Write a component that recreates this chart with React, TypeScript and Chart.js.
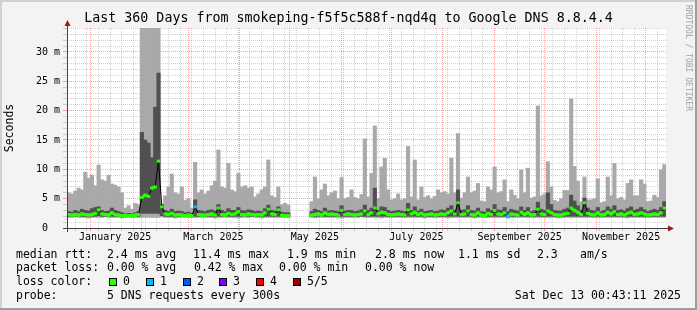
import React, { useEffect, useRef } from 'react';
import { Chart, registerables } from 'chart.js';

Chart.register(...registerables);

const TITLE = 'Last 360 Days from smokeping-f5f5c588f-nqd4q to Google DNS 8.8.4.4';
const Y_TITLE = 'Seconds';
const WATERMARK = 'RRDTOOL / TOBI OETIKER';
const SPAN_DAYS = 360;
const BIN_DAYS = 2;
const Y_MAX_MS = 34.09;

// x ticks, in days since 18 Dec 2024 00:43
const monthStartDays = [13.97, 44.97, 72.97, 103.97, 133.97, 164.97, 194.97, 225.97, 256.97, 286.97, 317.97, 347.97];
const firstMondayDay = 4.97;
const monthLabels = ['January 2025', 'March 2025', 'May 2025', 'July 2025', 'September 2025', 'November 2025'];
const monthLabelDays = [28.97, 87.97, 148.97, 209.97, 271.97, 332.97];

// smoke: outer (light) range per 2-day bin, ms
const smokeMax: (number | null)[] = [
  6.0, 5.8, 6.3, 6.8, 6.5, 9.5, 8.5, 9.0, 7.2, 10.7, 8.2, 8.0, 9.0, 7.5, 7.3, 7.0, 6.0, 3.4, 3.8, 3.2,
  4.2, 4.0, 100, 100, 100, 100, 100, 100, 4.0, 5.5, 7.0, 9.2, 6.0, 5.8, 7.0, 4.7, 5.0, 3.4, 11.2, 6.0,
  6.5, 5.8, 6.3, 7.2, 8.0, 13.3, 7.0, 6.8, 11.0, 6.5, 6.2, 9.3, 7.0, 7.2, 6.8, 7.0, 5.3, 5.8, 6.5, 7.0,
  11.6, 5.5, 5.2, 7.0, 4.0, 4.2, 3.9, null, null, null, null, null, null, 4.5, 8.7, 5.0, 6.5, 7.5, 5.5, 6.0,
  6.3, 5.0, 8.6, 5.0, 5.2, 6.5, 5.2, 5.0, 5.7, 15.2, 5.3, 9.3, 17.4, 5.0, 10.4, 11.9, 6.5, 4.8, 5.0, 5.8,
  4.8, 5.0, 13.9, 5.3, 11.6, 4.8, 7.0, 5.2, 5.5, 5.0, 5.4, 6.5, 6.0, 6.2, 5.8, 11.9, 6.0, 16.1, 5.1, 6.0,
  8.7, 6.0, 6.3, 7.6, 4.6, 4.5, 7.0, 6.5, 10.4, 6.0, 6.2, 8.2, 4.5, 6.5, 5.6, 5.0, 9.9, 6.0, 10.2, 5.1,
  5.3, 20.8, 5.5, 5.8, 11.3, 7.0, 4.7, 4.5, 5.0, 6.4, 6.4, 22.0, 10.5, 8.0, 4.5, 8.7, 4.8, 4.8, 5.0, 8.4,
  4.3, 4.5, 8.7, 5.5, 11.0, 5.0, 5.2, 4.8, 7.6, 8.2, 5.5, 5.5, 8.2, 7.5, 4.5, 4.6, 5.6, 5.2, 9.9, 10.8,
];
const smokeMin: (number | null)[] = [
  1.8, 1.8, 1.9, 1.8, 1.8, 1.8, 1.7, 1.8, 1.8, 1.8, 1.8, 1.9, 1.8, 1.8, 1.8, 1.8, 1.7, 1.8, 1.9, 1.8,
  1.8, 1.8, 1.8, 1.8, 1.8, 1.8, 1.8, 1.8, 1.9, 1.8, 1.8, 1.8, 1.7, 1.8, 1.8, 1.8, 1.8, 1.8, 1.8, 1.8,
  1.8, 1.8, 1.8, 1.8, 1.7, 1.8, 1.8, 1.8, 1.8, 1.8, 1.8, 1.7, 1.8, 1.8, 1.8, 1.9, 1.8, 1.8, 1.7, 1.8,
  1.8, 1.8, 1.8, 1.8, 1.8, 1.9, 1.8, null, null, null, null, null, null, 1.8, 1.7, 1.8, 1.8, 1.8, 1.8, 1.8,
  1.8, 1.8, 1.7, 1.8, 1.8, 1.8, 1.8, 1.8, 1.9, 1.8, 1.8, 1.8, 1.8, 1.8, 1.7, 1.8, 1.8, 1.8, 1.8, 1.8,
  1.8, 1.8, 1.8, 1.8, 1.8, 1.8, 1.8, 1.7, 1.8, 1.8, 1.8, 1.8, 1.8, 1.8, 1.7, 1.8, 1.8, 1.8, 1.8, 1.8,
  1.8, 1.8, 1.7, 1.8, 1.8, 1.8, 1.8, 1.8, 1.8, 1.8, 1.8, 1.8, 1.7, 1.8, 1.8, 1.8, 1.8, 1.8, 1.8, 1.8,
  1.8, 1.8, 1.8, 1.8, 1.8, 1.8, 1.8, 1.7, 1.8, 1.8, 1.8, 1.8, 1.8, 1.8, 1.8, 1.8, 1.8, 1.8, 1.8, 1.8,
  1.8, 1.8, 1.8, 1.8, 1.8, 1.8, 1.8, 1.8, 1.7, 1.8, 1.8, 1.8, 1.8, 1.8, 1.8, 1.8, 1.8, 1.8, 1.8, 1.8,
];
// smoke: inner (dark) range per bin, ms
const coreMax: (number | null)[] = [
  2.8, 2.7, 3.0, 2.8, 3.2, 3.0, 2.9, 3.3, 3.5, 3.6, 3.0, 2.8, 2.9, 3.4, 3.0, 2.8, 2.6, 2.4, 2.5, 2.4,
  2.6, 2.8, 16.3, 15.0, 14.5, 12.0, 20.6, 26.4, 4.0, 3.0, 2.8, 3.2, 2.8, 2.9, 2.8, 2.6, 2.7, 2.5, 4.8, 3.0,
  2.9, 2.8, 3.0, 3.1, 2.9, 4.0, 3.0, 2.8, 3.3, 3.0, 3.0, 3.5, 3.0, 2.9, 3.1, 3.0, 2.8, 2.9, 2.8, 3.3,
  3.9, 3.0, 2.9, 3.6, 2.7, 2.6, 2.6, null, null, null, null, null, null, 2.8, 3.2, 3.0, 2.8, 3.4, 2.9, 3.0,
  2.9, 2.8, 3.8, 2.9, 3.0, 3.0, 2.8, 2.9, 3.1, 3.9, 3.0, 3.4, 6.8, 3.0, 3.6, 3.5, 3.0, 2.8, 2.9, 3.0,
  2.9, 2.8, 4.2, 3.0, 3.6, 2.9, 3.2, 2.8, 2.9, 3.0, 2.8, 2.9, 3.1, 3.0, 3.4, 3.8, 3.0, 6.5, 3.0, 3.1,
  3.8, 3.0, 2.9, 3.4, 2.8, 2.7, 3.3, 3.0, 4.0, 3.1, 3.0, 3.5, 2.8, 3.2, 3.0, 2.9, 3.6, 3.0, 3.5, 2.8,
  3.0, 4.4, 3.2, 3.0, 6.0, 4.0, 3.0, 2.9, 2.9, 3.2, 3.4, 5.6, 4.6, 3.8, 3.0, 5.1, 3.4, 3.0, 2.9, 3.5,
  2.8, 3.0, 3.6, 3.2, 3.8, 3.0, 3.1, 2.9, 3.3, 3.6, 3.0, 3.2, 3.5, 3.1, 2.8, 3.0, 3.2, 3.0, 3.5, 4.5,
];
const coreMin: (number | null)[] = [
  2.0, 2.0, 2.0, 2.0, 2.0, 2.0, 1.9, 2.0, 2.0, 2.1, 2.0, 2.0, 2.0, 2.0, 2.0, 2.0, 1.9, 1.9, 1.9, 1.9,
  2.0, 2.0, 2.5, 2.5, 2.5, 2.5, 2.5, 2.5, 2.1, 2.0, 2.0, 2.0, 1.9, 2.0, 2.0, 2.0, 2.0, 1.9, 2.0, 2.0,
  2.0, 2.0, 2.0, 2.0, 1.9, 2.0, 2.0, 2.0, 2.0, 2.0, 2.0, 2.0, 2.0, 2.0, 2.0, 2.0, 2.0, 2.0, 1.9, 2.0,
  2.0, 2.0, 2.0, 2.0, 2.0, 1.9, 1.9, null, null, null, null, null, null, 2.0, 2.0, 2.0, 2.0, 2.0, 2.0, 2.0,
  2.0, 2.0, 2.0, 2.0, 2.0, 2.0, 2.0, 2.0, 2.0, 2.0, 2.0, 2.0, 2.0, 2.0, 2.0, 2.0, 2.0, 1.9, 2.0, 2.0,
  2.0, 1.9, 2.0, 2.0, 2.0, 2.0, 2.0, 1.9, 2.0, 2.0, 1.9, 2.0, 2.0, 2.0, 2.0, 2.0, 2.0, 2.0, 2.0, 2.0,
  2.0, 2.0, 1.9, 2.0, 2.0, 1.9, 2.0, 2.0, 2.0, 2.0, 2.0, 2.0, 1.9, 2.0, 2.0, 2.0, 2.0, 2.0, 2.0, 1.9,
  2.0, 2.0, 2.0, 2.0, 2.0, 2.0, 2.0, 1.9, 1.9, 2.0, 2.0, 2.0, 2.0, 2.0, 2.0, 2.0, 2.0, 2.0, 1.9, 2.0,
  1.9, 2.0, 2.0, 2.0, 2.0, 2.0, 2.0, 1.9, 2.0, 2.0, 2.0, 2.0, 2.0, 2.0, 1.9, 2.0, 2.0, 2.0, 2.0, 2.0,
];
// median rtt per bin, ms
const medianMs: (number | null)[] = [
  2.3, 2.2, 2.3, 2.2, 2.4, 2.3, 2.2, 2.3, 2.5, 3.1, 2.4, 2.3, 2.2, 2.6, 2.3, 2.2, 2.1, 2.1, 2.1, 2.1,
  2.2, 2.3, 5.2, 5.6, 5.4, 6.8, 7.0, 11.4, 3.6, 2.4, 2.3, 2.5, 2.2, 2.3, 2.2, 2.1, 2.2, 2.1, 3.6, 2.3,
  2.2, 2.2, 2.3, 2.4, 2.2, 3.4, 2.3, 2.2, 2.5, 2.3, 2.4, 2.8, 2.3, 2.2, 2.4, 2.3, 2.2, 2.3, 2.2, 2.6,
  3.2, 2.4, 2.3, 3.1, 2.2, 2.1, 2.1, null, null, null, null, null, null, 2.2, 2.3, 2.4, 2.2, 2.6, 2.3, 2.4,
  2.3, 2.2, 3.0, 2.3, 2.4, 2.3, 2.2, 2.3, 2.4, 2.9, 2.3, 2.6, 3.4, 2.4, 2.7, 2.6, 2.3, 2.2, 2.3, 2.4,
  2.3, 2.2, 3.1, 2.4, 2.7, 2.3, 2.5, 2.2, 2.3, 2.4, 2.2, 2.3, 2.4, 2.3, 2.6, 2.9, 2.4, 4.3, 2.3, 2.4,
  2.9, 2.3, 2.2, 2.6, 2.2, 2.1, 2.5, 2.3, 3.0, 2.4, 2.3, 2.6, 2.0, 2.4, 2.3, 2.2, 2.7, 2.3, 2.6, 2.2,
  2.3, 3.2, 2.4, 2.3, 2.9, 2.6, 2.3, 2.2, 2.2, 2.4, 2.5, 3.4, 3.0, 2.7, 2.3, 4.3, 2.5, 2.3, 2.2, 2.6,
  2.2, 2.3, 2.7, 2.4, 2.8, 2.3, 2.4, 2.2, 2.5, 2.7, 2.3, 2.4, 2.6, 2.4, 2.2, 2.3, 2.4, 2.3, 2.6, 3.4,
];
// bins where pings were lost, and how many of 5
const lossBins = [38, 132];
const lossPings = [1, 1];

// legend texts
const rttStats = ['median rtt:', '2.4 ms avg', '11.4 ms max', '1.9 ms min', '2.8 ms now', '1.1 ms sd', '2.3', 'am/s'];
const lossStats = ['packet loss:', '0.00 % avg', '0.42 % max', '0.00 % min', '0.00 % now'];
const lossColorTitle = 'loss color:';
const lossColorLabels = ['0', '1', '2', '3', '4', '5/5'];
const lossColors = ['#26ff00', '#00b8ff', '#0059ff', '#7e00ff', '#ff0000', '#a10000'];
const probeTexts = ['probe:', '5 DNS requests every 300s'];
const stampText = 'Sat Dec 13 00:43:11 2025';

const FONT = "'DejaVu Sans Mono', monospace";
const MGRID = 'rgba(240,90,90,0.55)';
const GRID = 'rgba(143,143,143,0.4)';
const BAR_PX = 3.45;
const CLEAR = 'rgba(0,0,0,0)';

type XTick = { value: number; kind: 'month' | 'week' | 'label'; label?: string };

function buildXTicks(): XTick[] {
  const list: XTick[] = [];
  monthStartDays.forEach((v) => list.push({ value: v, kind: 'month' }));
  for (let d = firstMondayDay; d < SPAN_DAYS; d += 7) {
    if (!monthStartDays.some((m) => Math.abs(m - d) < 0.5)) list.push({ value: d, kind: 'week' });
  }
  monthLabelDays.forEach((v, k) => list.push({ value: v, kind: 'label', label: monthLabels[k] }));
  list.sort((a, b) => a.value - b.value);
  return list;
}

const binCenter = (i: number) => i * BIN_DAYS + BIN_DAYS / 2;

const rrdPlugin = {
  id: 'rrdFrame',
  beforeDraw(chart: any) {
    const { ctx, chartArea: a, width, height } = chart;
    ctx.save();
    ctx.fillStyle = '#f3f3f3';
    ctx.fillRect(0, 0, width, height);
    ctx.fillStyle = '#d0d0d0';
    ctx.fillRect(0, 0, width, 2);
    ctx.fillRect(0, 0, 2, height);
    ctx.fillStyle = '#9c9c9c';
    ctx.fillRect(0, height - 2, width, 2);
    ctx.fillRect(width - 2, 0, 2, height);
    ctx.fillStyle = '#ffffff';
    ctx.fillRect(a.left, a.top, a.right - a.left, a.bottom - a.top);
    ctx.restore();
  },
  afterDatasetsDraw(chart: any) {
    const { ctx, chartArea: a } = chart;
    ctx.save();
    ctx.strokeStyle = '#404040';
    ctx.lineWidth = 1;
    ctx.beginPath();
    ctx.moveTo(a.left - 4, a.bottom + 0.5);
    ctx.lineTo(a.right + 4, a.bottom + 0.5);
    ctx.moveTo(a.left + 0.5, a.bottom + 4);
    ctx.lineTo(a.left + 0.5, a.top - 4);
    ctx.stroke();
    ctx.fillStyle = '#9a1b1b';
    ctx.beginPath();
    ctx.moveTo(a.left + 0.5, a.top - 8);
    ctx.lineTo(a.left - 2.5, a.top - 2);
    ctx.lineTo(a.left + 3.5, a.top - 2);
    ctx.closePath();
    ctx.fill();
    ctx.beginPath();
    ctx.moveTo(a.right + 8, a.bottom + 0.5);
    ctx.lineTo(a.right + 2, a.bottom - 2.5);
    ctx.lineTo(a.right + 2, a.bottom + 3.5);
    ctx.closePath();
    ctx.fill();
    ctx.restore();
  },
  afterDraw(chart: any) {
    const { ctx } = chart;
    ctx.save();
    ctx.font = `11.5px ${FONT}`;
    ctx.fillStyle = '#000';
    ctx.textBaseline = 'middle';
    ctx.textAlign = 'left';
    const rttX = [16, 107, 193, 287, 375, 458, 537, 580];
    rttStats.forEach((s, k) => ctx.fillText(s, rttX[k], 255));
    const lossX = [16, 107, 194, 279, 365];
    lossStats.forEach((s, k) => ctx.fillText(s, lossX[k], 268.5));
    ctx.fillText(lossColorTitle, 16, 282.5);
    const boxX = [109, 146, 183, 219, 256, 293];
    lossColorLabels.forEach((s, k) => {
      ctx.fillStyle = lossColors[k];
      ctx.fillRect(boxX[k], 278, 8, 8);
      ctx.strokeStyle = '#000';
      ctx.lineWidth = 1;
      ctx.strokeRect(boxX[k] + 0.5, 278.5, 7, 7);
      ctx.fillStyle = '#000';
      ctx.fillText(s, boxX[k] + 14, 282.5);
    });
    ctx.fillText(probeTexts[0], 16, 296);
    ctx.fillText(probeTexts[1], 107, 296);
    ctx.textAlign = 'right';
    ctx.fillText(stampText, 681, 296);
    // watermark
    ctx.translate(688, 5);
    ctx.rotate(Math.PI / 2);
    ctx.textAlign = 'left';
    ctx.font = `8px ${FONT}`;
    ctx.fillStyle = '#a0a0a0';
    ctx.fillText(WATERMARK, 0, 0);
    ctx.restore();
  },
};

export default function App() {
  const ref = useRef<HTMLCanvasElement>(null);
  useEffect(() => {
    document.body.style.margin = '0';
    const xTicks = buildXTicks();
    const lightBars: any[] = [];
    const darkBars: any[] = [];
    const medLine: any[] = [];
    const dotColors: string[] = [];
    smokeMax.forEach((hi, i) => {
      const x = binCenter(i);
      if (hi != null && smokeMin[i] != null) lightBars.push({ x, y: [smokeMin[i], hi] });
      const ch = coreMax[i];
      const cl = coreMin[i];
      if (ch != null && cl != null) darkBars.push({ x, y: [cl, ch] });
      medLine.push({ x, y: medianMs[i] });
      const li = lossBins.indexOf(i);
      dotColors.push(lossColors[li >= 0 ? lossPings[li] : 0]);
    });

    const chart = new Chart(ref.current as HTMLCanvasElement, {
      type: 'bar',
      data: {
        datasets: [
          {
            type: 'bar',
            label: 'smoke',
            data: lightBars,
            backgroundColor: '#a9a9a9',
            borderWidth: 0,
            barThickness: BAR_PX,
            grouped: false,
            order: 4,
          } as any,
          {
            type: 'bar',
            label: 'smoke core',
            data: darkBars,
            backgroundColor: '#505050',
            borderWidth: 0,
            barThickness: BAR_PX,
            grouped: false,
            order: 3,
          } as any,
          {
            type: 'line',
            label: 'median',
            data: medLine,
            borderColor: '#000',
            borderWidth: 1,
            pointRadius: 0,
            tension: 0,
            order: 2,
          } as any,
          {
            type: 'line',
            label: 'median loss colour',
            data: medLine,
            borderWidth: 3,
            borderColor: lossColors[0],
            tension: 0,
            segment: {
              borderColor: (c: any) =>
                Math.abs(c.p0.parsed.y - c.p1.parsed.y) > 0.45 ? CLEAR : dotColors[c.p0DataIndex],
            },
            pointStyle: 'line',
            pointRadius: 1.75,
            pointBorderWidth: 3,
            pointBorderColor: dotColors,
            pointBackgroundColor: dotColors,
            order: 1,
          } as any,
        ],
      },
      options: {
        responsive: false,
        animation: false,
        devicePixelRatio: 1,
        events: [],
        layout: { padding: { left: 0, right: 0, top: 0, bottom: 62 } },
        plugins: {
          legend: { display: false },
          tooltip: { enabled: false },
          title: {
            display: true,
            text: TITLE,
            color: '#000',
            font: { family: FONT, size: 13.3, weight: 'normal', lineHeight: 1.2 },
            padding: { top: 11, bottom: 1.04 },
          },
        },
        scales: {
          x: {
            type: 'linear',
            min: 0,
            max: SPAN_DAYS,
            offset: false,
            afterBuildTicks: (scale: any) => {
              scale.ticks = xTicks.map((t) => ({ value: t.value }));
            },
            afterFit: (scale: any) => {
              scale.height = 20;
            },
            grid: {
              offset: false,
              color: (c: any) => {
                const t = xTicks[c.index];
                if (!t) return CLEAR;
                return t.kind === 'month' ? MGRID : t.kind === 'week' ? GRID : CLEAR;
              },
              lineWidth: 1,
              drawTicks: true,
              tickLength: 3,
            },
            border: { display: false, dash: [1, 1] },
            ticks: {
              autoSkip: false,
              maxRotation: 0,
              minRotation: 0,
              padding: 0,
              color: '#000',
              font: { family: FONT, size: 10 },
              callback: (_v: any, idx: number) => (xTicks[idx] && xTicks[idx].label) || '',
            },
          },
          y: {
            type: 'linear',
            min: 0,
            max: Y_MAX_MS,
            afterFit: (scale: any) => {
              scale.width = 67;
            },
            grid: {
              color: (c: any) => (c.tick && c.tick.value % 5 === 0 ? MGRID : GRID),
              lineWidth: 1,
              drawTicks: true,
              tickLength: 4,
            },
            border: { display: false, dash: [1, 1] },
            title: {
              display: true,
              text: Y_TITLE,
              color: '#000',
              font: { family: FONT, size: 11.5 },
              padding: { top: 3, bottom: 0 },
            },
            ticks: {
              stepSize: 1,
              includeBounds: false,
              autoSkip: false,
              padding: 3,
              color: '#000',
              font: { family: FONT, size: 10 },
              callback: (v: any) => {
                const n = Number(v);
                if (n % 5 !== 0) return '';
                return n === 0 ? '0  ' : `${n} m`;
              },
            },
          },
          // empty right-hand margin (keeps the title centred on the whole image)
          margin: {
            type: 'linear',
            position: 'right',
            display: true,
            min: 0,
            max: 1,
            afterFit: (scale: any) => {
              scale.width = 31;
            },
            grid: { display: false, drawTicks: false },
            border: { display: false },
            ticks: { display: false },
          },
        },
      },
      plugins: [rrdPlugin],
    } as any);
    return () => chart.destroy();
  }, []);
  return <canvas ref={ref} width={697} height={310} style={{ display: 'block', width: 697, height: 310 }} />;
}
